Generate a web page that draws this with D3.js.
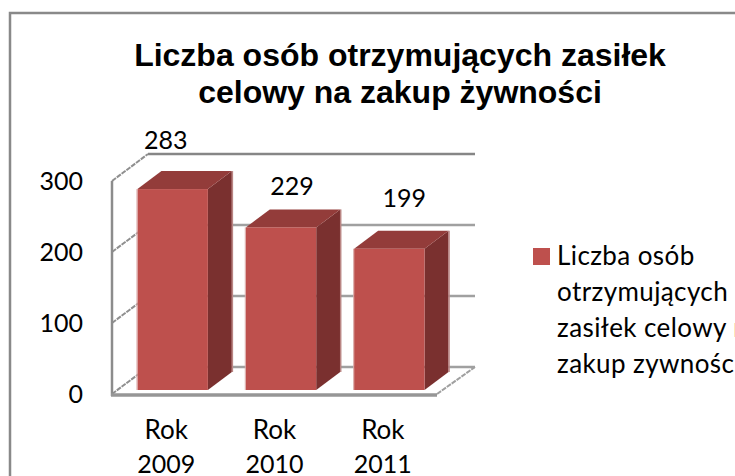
<!DOCTYPE html>
<html lang="pl">
<head>
<meta charset="utf-8">
<title>Liczba osób otrzymujących zasiłek</title>
<script src="https://d3js.org/d3.v7.min.js"></script>
<style>
  html, body { margin: 0; padding: 0; background: #fff; overflow: hidden; }
  text { font-family: Lato, sans-serif; fill: #000; }
</style>
</head>
<body>
<script>
var years = ["2009", "2010", "2011"];
var categoryWord = "Rok";
var counts = [283, 229, 199];
var yTicks = [0, 100, 200, 300];
var titleLines = ["Liczba osób otrzymujących zasiłek", "celowy na zakup żywności"];
var legendLines = ["Liczba osób", "otrzymujących", "zasiłek celowy na", "zakup zywności"];

var width = 735, height = 476;
var depthX = 24, depthY = 18;   // 3d offset of the box

var svg = d3.select("body").append("svg")
  .attr("width", width)
  .attr("height", height);

// chart frame, runs off the right and bottom of the picture
svg.append("path")
  .attr("d", "M10,476V13H735")
  .attr("fill", "none")
  .attr("stroke", "#898989")
  .attr("stroke-width", 2.5);

var titleText = svg.append("text")
  .attr("text-anchor", "middle")
  .style("font-family", "'Liberation Sans', Arial, sans-serif")
  .style("font-weight", "bold")
  .style("font-size", "32px");
titleLines.forEach(function(line, i) {
  titleText.append("tspan")
    .attr("x", 400)
    .attr("y", 66 + i * 37)
    .text(line);
});

// front plane
var x = d3.scaleBand().domain(years).range([112, 437]).paddingInner(0.35).paddingOuter(0.175);
var y = d3.scaleLinear().domain([0, 300]).range([390, 177]);
var floorY = 394;

// axis y scale sits a bit lower than the bars
function frontY(v) { return y(v) + 4; }
function backY(v) { return y(v) - 23; }

var grid = svg.append("g").attr("fill", "none");
grid.selectAll("line.back")
  .data(yTicks)
  .join("line")
  .attr("class", "back")
  .attr("x1", 148).attr("x2", 475)
  .attr("y1", backY).attr("y2", backY)
  .attr("stroke", function(d) { return d == 300 ? "#868686" : "#a0a0a0"; })
  .attr("stroke-width", 2.5);

grid.selectAll("line.side")
  .data(yTicks)
  .join("line")
  .attr("class", "side")
  .attr("x1", 112).attr("x2", 148)
  .attr("y1", frontY).attr("y2", backY)
  .attr("stroke", "#8f8f8f")
  .attr("stroke-width", 2)
  .attr("stroke-dasharray", "5 1");

// floor edge on the right
grid.append("line")
  .attr("x1", 437).attr("x2", 475)
  .attr("y1", floorY).attr("y2", backY(0))
  .attr("stroke", "#a0a0a0")
  .attr("stroke-width", 2)
  .attr("stroke-dasharray", "5 1");

// left wall and front floor line
grid.append("line")
  .attr("x1", 112).attr("x2", 112)
  .attr("y1", frontY(300)).attr("y2", floorY + 2)
  .attr("stroke", "#8c8c8c")
  .attr("stroke-width", 2.5);
grid.append("line")
  .attr("x1", 111).attr("x2", 437)
  .attr("y1", floorY + 1).attr("y2", floorY + 1)
  .attr("stroke", "#969696")
  .attr("stroke-width", 3.5);

var barShift = 6.5;
var bars = svg.append("g").selectAll("g")
  .data(counts)
  .join("g");

function left(d, i) { return x(years[i]) + barShift; }
function right(d, i) { return left(d, i) + x.bandwidth(); }

bars.append("path")   // side face
  .attr("fill", "#7a302f")
  .attr("d", function(d, i) {
    var r = right(d, i);
    return "M" + r + "," + y(d) + "L" + (r + depthX) + "," + (y(d) - depthY) +
      "V" + (y(0) - depthY) + "L" + r + "," + y(0) + "Z";
  });

bars.append("path")   // top face
  .attr("fill", "#933c3a")
  .attr("d", function(d, i) {
    var l = left(d, i), r = right(d, i);
    return "M" + l + "," + y(d) + "L" + (l + depthX) + "," + (y(d) - depthY) +
      "H" + (r + depthX) + "L" + r + "," + y(d) + "Z";
  });

bars.append("rect")   // front face
  .attr("fill", "#be504d")
  .attr("x", left)
  .attr("y", function(d) { return y(d); })
  .attr("width", x.bandwidth())
  .attr("height", function(d) { return y(0) - y(d); });

// pale antialiased edges the source image has on both sides of each bar
bars.append("line")
  .attr("x1", function(d, i) { return left(d, i) - 0.5; })
  .attr("x2", function(d, i) { return left(d, i) - 0.5; })
  .attr("y1", function(d) { return y(d); })
  .attr("y2", y(0))
  .attr("stroke", "#dba7a5")
  .attr("stroke-width", 1);
bars.append("line")
  .attr("x1", function(d, i) { return right(d, i) + depthX + 0.5; })
  .attr("x2", function(d, i) { return right(d, i) + depthX + 0.5; })
  .attr("y1", function(d) { return y(d) - depthY; })
  .attr("y2", y(0) - depthY)
  .attr("stroke", "#b98583")
  .attr("stroke-width", 1.5);

// value labels, nudged by hand like in the source chart
var labelNudge = [[-7, -40], [11, -32], [15, -42]];
svg.append("g").selectAll("text")
  .data(counts)
  .join("text")
  .attr("text-anchor", "middle")
  .style("font-size", "25px")
  .attr("x", function(d, i) { return x(years[i]) + x.bandwidth() / 2 + barShift + labelNudge[i][0]; })
  .attr("y", function(d, i) { return y(d) + labelNudge[i][1]; })
  .text(function(d) { return d; });

// y tick labels
svg.append("g").selectAll("text")
  .data(yTicks)
  .join("text")
  .attr("text-anchor", "end")
  .style("font-size", "25px")
  .attr("x", 83)
  .attr("y", function(d) { return frontY(d) + 9; })
  .text(function(d) { return d; });

// category labels on two lines
var cats = svg.append("g").selectAll("text")
  .data(years)
  .join("text")
  .attr("text-anchor", "middle")
  .style("font-size", "25px");
cats.append("tspan")
  .attr("x", function(d) { return x(d) + x.bandwidth() / 2; })
  .attr("y", 439)
  .style("font-size", "26px")
  .text(categoryWord);
cats.append("tspan")
  .attr("x", function(d) { return x(d) + x.bandwidth() / 2; })
  .attr("y", 473)
  .text(function(d) { return d; });

// legend
svg.append("rect")
  .attr("x", 533).attr("y", 248)
  .attr("width", 17).attr("height", 17)
  .attr("fill", "#be504d");
svg.append("g").selectAll("text")
  .data(legendLines)
  .join("text")
  .style("font-size", "26px")
  .style("letter-spacing", "0.4px")
  .attr("x", 557)
  .attr("y", function(d, i) { return 265 + i * 36; })
  .text(function(d) { return d; });
</script>
</body>
</html>
